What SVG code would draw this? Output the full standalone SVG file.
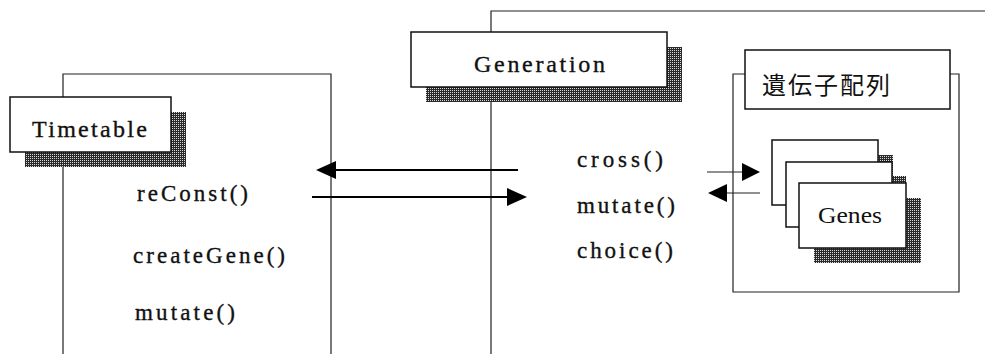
<svg xmlns="http://www.w3.org/2000/svg" width="991" height="354" viewBox="0 0 991 354">
  <style>
    .frame { fill: none; stroke: #222; stroke-width: 1.2; }
    .box { fill: #fff; stroke: #111; stroke-width: 1.5; }
    .shadow { fill: url(#dither); stroke: none; }
    .title { font-family: "Liberation Serif", "DejaVu Serif", serif; font-size: 24px; fill: #111; stroke: #111; stroke-width: 0.35; }
    .method { font-family: "Liberation Serif", "DejaVu Serif", serif; font-size: 23px; fill: #111; stroke: #111; stroke-width: 0.35; }
    .jp { font-family: "Noto Sans CJK JP", "Noto Sans", sans-serif; font-size: 24px; fill: #111; letter-spacing: 2px; }
    .serif { font-family: "Liberation Serif", "DejaVu Serif", serif; font-size: 24px; fill: #111; }
    .arrow { stroke: #000; stroke-width: 2.2; fill: none; }
    .thin { stroke: #222; stroke-width: 1.2; fill: none; }
    .head { fill: #000; stroke: none; }
  </style>
  <defs>
    <!-- dithered drop-shadow fill -->
    <pattern id="dither" width="2" height="2" patternUnits="userSpaceOnUse">
      <rect width="2" height="2" fill="#2a2a2a"/>
      <rect width="1" height="1" fill="#d8d8d8"/>
    </pattern>
  </defs>

  <rect width="991" height="354" fill="#fff"/>

  <!-- Timetable object -->
  <g id="timetable">
    <path class="frame" d="M63,354 V74 H331 V354"/>
    <rect class="shadow" x="25" y="112" width="161" height="55"/>
    <rect class="box" x="10" y="97" width="161" height="55"/>
    <text class="title" x="32" y="137" textLength="115" lengthAdjust="spacing">Timetable</text>
    <text class="method" x="137" y="201" textLength="111" lengthAdjust="spacing">reConst()</text>
    <text class="method" x="133" y="263" textLength="152" lengthAdjust="spacing">createGene()</text>
    <text class="method" x="135" y="320" textLength="100" lengthAdjust="spacing">mutate()</text>
  </g>

  <!-- Generation object -->
  <g id="generation">
    <path class="frame" d="M491,354 V11 H985"/>
    <rect class="shadow" x="426" y="47" width="256" height="55"/>
    <rect class="box" x="411" y="32" width="256" height="55"/>
    <text class="title" x="474" y="72" textLength="131" lengthAdjust="spacing">Generation</text>
    <text class="method" x="577" y="167" textLength="86" lengthAdjust="spacing">cross()</text>
    <text class="method" x="577" y="213" textLength="98" lengthAdjust="spacing">mutate()</text>
    <text class="method" x="577" y="258" textLength="96" lengthAdjust="spacing">choice()</text>
  </g>

  <!-- gene array container -->
  <g id="gene-array">
    <path class="frame" d="M745,74 H733 V292 H959 V74 H950"/>
    <rect class="box" x="745" y="50" width="205" height="59" stroke-width="1.2"/>
    <text class="jp" x="762" y="94">遺伝子配列</text>
  </g>

  <!-- stacked Genes objects -->
  <g id="genes">
    <rect class="shadow" x="787" y="155" width="106" height="65"/>
    <rect class="box" x="772" y="140" width="106" height="65" stroke-width="1.2"/>
    <rect class="shadow" x="800" y="176" width="106" height="65"/>
    <rect class="box" x="786" y="162" width="106" height="65" stroke-width="1.2"/>
    <rect class="shadow" x="814" y="198" width="107" height="65"/>
    <rect class="box" x="799" y="183" width="107" height="65"/>
    <text class="serif" x="818" y="223" textLength="64" lengthAdjust="spacingAndGlyphs">Genes</text>
  </g>

  <!-- message arrows -->
  <g id="connectors">
    <line class="arrow" x1="518" y1="170" x2="333" y2="170"/>
    <polygon class="head" points="316,170 336,161 336,179"/>
    <line class="arrow" x1="312" y1="197" x2="509" y2="197"/>
    <polygon class="head" points="527,197 507,188 507,206"/>
    <line class="thin" x1="707" y1="172" x2="743" y2="172"/>
    <polygon class="head" points="760,172 742,163 742,181"/>
    <line class="thin" x1="726" y1="193" x2="760" y2="193"/>
    <polygon class="head" points="708,193 727,184 727,202"/>
  </g>
</svg>
